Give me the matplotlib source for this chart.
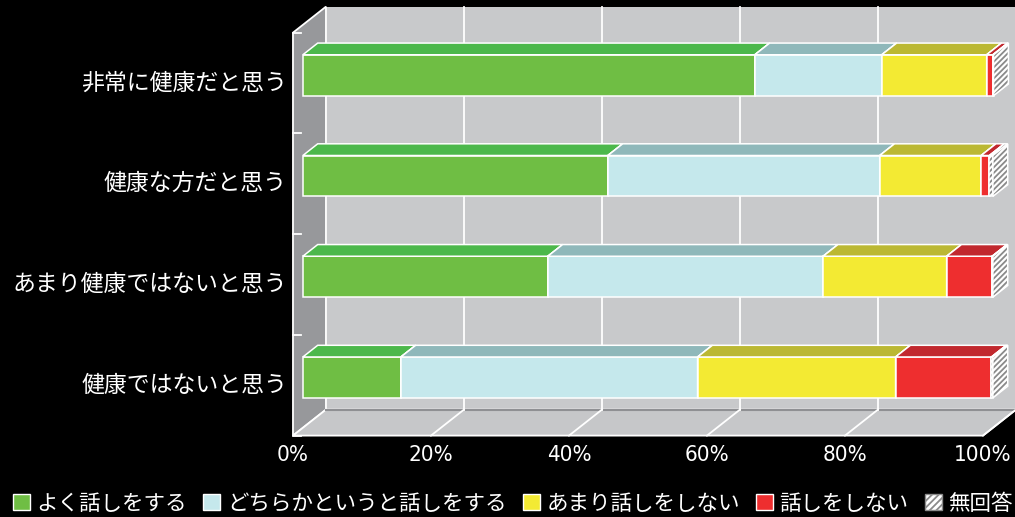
import matplotlib.pyplot as plt
from matplotlib.patches import Polygon, Patch
from matplotlib import font_manager

plt.rcParams['font.family'] = ['Noto Sans CJK JP', 'DejaVu Sans']
plt.rcParams['hatch.linewidth'] = 1.3

categories = ['非常に健康だと思う', '健康な方だと思う', 'あまり健康ではないと思う', '健康ではないと思う']
series = ['よく話しをする', 'どちらかというと話しをする', 'あまり話しをしない', '話しをしない', '無回答']
yoku = [65.5, 44.2, 35.5, 14.2]
dochira = [18.4, 39.4, 39.9, 43.0]
amari = [15.2, 14.7, 17.9, 28.7]
shinai = [0.9, 1.2, 6.6, 13.9]
mukaitou = [0.1, 0.5, 0.1, 0.2]
x_ticks = [0, 20, 40, 60, 80, 100]
x_tick_labels = ['0%', '20%', '40%', '60%', '80%', '100%']

front_colors = ['#6fbe44', '#c5e8ec', '#f3ea33', '#ee2e2f', 'white']
top_colors = ['#4cb84b', '#8fb8ba', '#bbb833', '#c1282e', 'white']

# oblique depth vector (x in %, y in category rows)
DX, DY = 4.78, -0.258
D0, D1 = 0.30, 0.75   # bar depth range
H = 0.203             # half bar height


def proj(x, y, d):
    return (x + DX * d, y + DY * d)


def face(ax, pts, fc, ec='white', lw=1.1, z=3, hatch=None):
    if hatch:
        ax.add_patch(Polygon(pts, closed=True, facecolor=fc, edgecolor='#8a8a8a',
                             lw=0, hatch=hatch, zorder=z))
        ax.add_patch(Polygon(pts, closed=True, fill=False, edgecolor=ec, lw=lw, zorder=z))
    else:
        ax.add_patch(Polygon(pts, closed=True, facecolor=fc, edgecolor=ec, lw=lw,
                             joinstyle='miter', zorder=z))


# narrow font for the percent labels if one is around
tick_font = font_manager.FontProperties(family='DejaVu Sans', stretch='condensed', size=16)
if 'Condensed' not in font_manager.findfont(tick_font):
    tick_font = font_manager.FontProperties(family='Roboto', size=16.5)

fig = plt.figure(figsize=(10.15, 5.17), dpi=100)
fig.patch.set_facecolor('black')
ax = fig.add_axes([0, 0, 1, 1])
ax.set_facecolor('black')
ax.set_xlim(-42.46, 104.64)
ax.set_ylim(4.308, -0.824)
ax.axis('off')

n = len(categories)
top, bot = -0.5, n - 0.5

# walls and floor
face(ax, [proj(0, top, 1), proj(100, top, 1), proj(100, bot, 1), proj(0, bot, 1)],
     '#c8c9cb', ec='none', lw=0, z=1)
face(ax, [proj(0, top, 0), proj(0, top, 1), proj(0, bot, 1), proj(0, bot, 0)],
     '#97989b', ec='white', lw=1.3, z=1)
face(ax, [proj(0, bot, 0), proj(100, bot, 0), proj(100, bot, 1), proj(0, bot, 1)],
     '#c6c7c9', ec='white', lw=1.3, z=1)
bx = [proj(0, bot, 1)[0], proj(100, bot, 1)[0]]
ax.plot(bx, [proj(0, bot, 1)[1]] * 2, color='#8f9093', lw=1.5, zorder=1.5)

for t in x_ticks[1:]:
    p1, p2 = proj(t, top, 1), proj(t, bot, 1)
    ax.plot([p1[0], p2[0]], [p1[1], p2[1]], color='white', lw=1.3, zorder=2)
    p3 = proj(t, bot, 0)
    ax.plot([p3[0], p2[0]], [p3[1], p2[1]], color='white', lw=1.3, zorder=2)

for b in range(n + 1):
    yb = b - 0.5
    ax.plot([0, 1.1], [yb, yb], color='white', lw=1.3, zorder=2)

# bars
data = [yoku, dochira, amari, shinai, mukaitou]
for i in range(n):
    left = 0
    for k, vals in enumerate(data):
        L, R = left, left + vals[i]
        left = R
        y1, y2 = i - H, i + H
        hatch = '//////' if k == 4 else None
        face(ax, [proj(L, y1, D0), proj(R, y1, D0), proj(R, y2, D0), proj(L, y2, D0)],
             front_colors[k], hatch=hatch)
        face(ax, [proj(L, y1, D0), proj(R, y1, D0), proj(R, y1, D1), proj(L, y1, D1)],
             top_colors[k], hatch=hatch)
        face(ax, [proj(R, y1, D0), proj(R, y1, D1), proj(R, y2, D1), proj(R, y2, D0)],
             top_colors[k], hatch=hatch)
    ax.text(-0.87, i, categories[i], color='white', fontsize=16.5,
            ha='right', va='center')

for t, lab in zip(x_ticks, x_tick_labels):
    ax.text(t, 3.69, lab, color='white', ha='center', va='center',
            fontproperties=tick_font)

handles = [Patch(facecolor=front_colors[k], edgecolor='white', lw=1) for k in range(4)]
handles.append(Patch(facecolor='white', edgecolor='#8a8a8a', hatch='/////', lw=1))
ax.legend(handles, series, loc='center left', bbox_to_anchor=(0.0, 0.026), ncol=5,
          frameon=False, labelcolor='white', fontsize=15.5, handlelength=0.8,
          handleheight=0.8, handletextpad=0.3, columnspacing=0.75, borderaxespad=0.2)

fig.savefig('out.png', dpi=100, facecolor='black')
